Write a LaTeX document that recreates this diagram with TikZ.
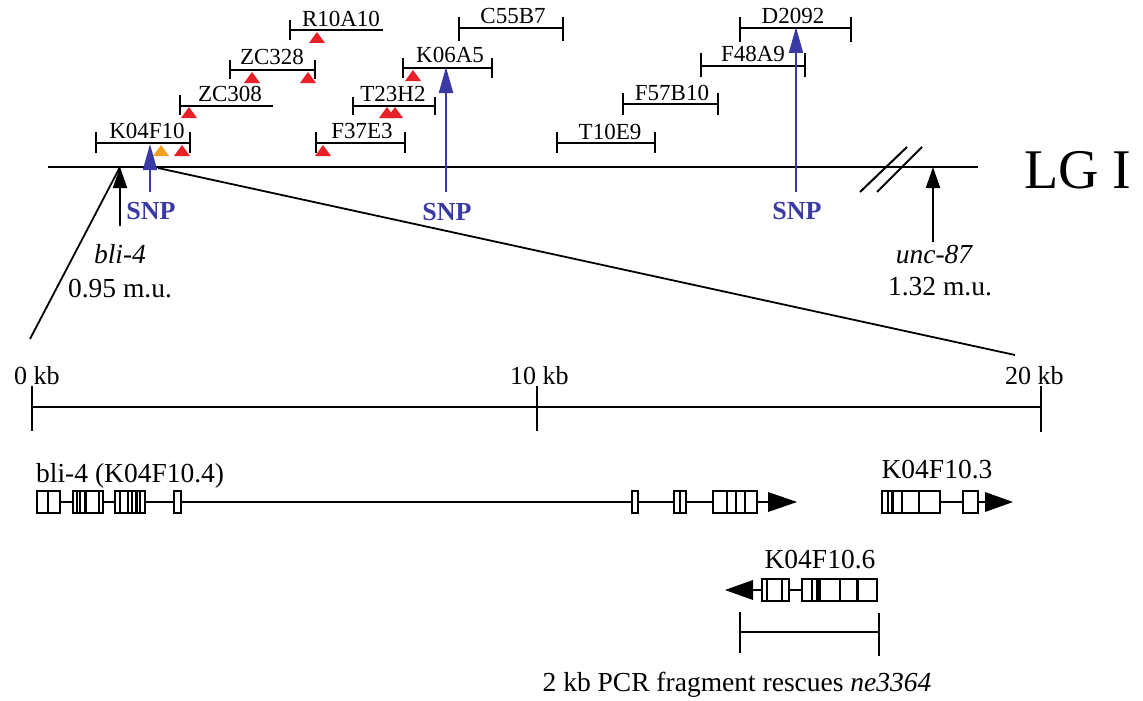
\documentclass[tikz,border=0pt]{standalone}
\usepackage{fontspec}
\setmainfont{Liberation Serif}
\usetikzlibrary{arrows.meta}
\definecolor{snpblue}{RGB}{58,58,165}
\definecolor{mred}{RGB}{232,32,40}
\definecolor{morange}{RGB}{242,162,32}
\tikzset{
  clonebar/.style={line width=1.7pt},
  clonelbl/.style={font=\fontsize{23}{25}\selectfont, inner sep=0pt, anchor=base},
  snplbl/.style={font=\fontsize{26}{28}\selectfont\bfseries, text=snpblue, inner sep=0pt, anchor=base},
  snparrow/.style={line width=2pt, draw=snpblue, -{Triangle[length=26pt,width=14pt]}, shorten >=0pt},
  blkarrow/.style={line width=2pt, -{Triangle[length=21pt,width=14pt]}},
  mulbl/.style={font=\fontsize{27.5}{30}\selectfont, inner sep=0pt, anchor=base},
  genelbl/.style={font=\fontsize{27.5}{30}\selectfont, inner sep=0pt, anchor=base},
  kblbl/.style={font=\fontsize{26}{28}\selectfont, inner sep=0pt, anchor=base west},
  exon/.style={line width=1.6pt, fill=white},
  intron/.style={line width=1.4pt},
  thinsep/.style={line width=1.2pt},
  thicksep/.style={line width=3pt},
}
\begin{document}
\begin{tikzpicture}[x=1pt,y=-1pt]
\useasboundingbox (0,0) rectangle (1143,701);

% ---- main linkage group line
\coordinate (lgL) at (48,167);
\coordinate (lgR) at (978,167);
\draw[line width=2.2pt] (lgL) -- (lgR);
\draw[line width=2pt] (860,192) -- (907,147);
\draw[line width=2pt] (877,192) -- (922,147);
\node[font=\fontsize{56}{60}\selectfont, inner sep=0pt, anchor=base west] (lgI) at (1024,188) {LG I};

% ---- clones
% R10A10
\draw[clonebar] (290,20) -- (290,40) (290,30) -- (383,30);
\node[clonelbl] (R10A10) at (341,27) {R10A10};
% ZC328
\draw[clonebar] (230,60) -- (230,79) (230,70) -- (315,70) (315,60) -- (315,79);
\node[clonelbl] (ZC328) at (272,65) {ZC328};
% ZC308
\draw[clonebar] (180,95) -- (180,115) (180,106) -- (273,106);
\node[clonelbl] (ZC308) at (230,101) {ZC308};
% K04F10
\draw[clonebar] (96,132) -- (96,153) (96,143) -- (190,143) (190,132) -- (190,153);
\node[clonelbl] (K04F10) at (147,138) {K04F10};
% T23H2
\draw[clonebar] (353,97) -- (353,115) (353,106) -- (435,106) (435,97) -- (435,115);
\node[clonelbl] (T23H2) at (393,101) {T23H2};
% F37E3
\draw[clonebar] (316,132) -- (316,153) (316,143) -- (405,143) (405,132) -- (405,153);
\node[clonelbl] (F37E3) at (362,138) {F37E3};
% K06A5
\draw[clonebar] (403,58) -- (403,78) (403,68) -- (492,68) (492,58) -- (492,78);
\node[clonelbl] (K06A5) at (450,63) {K06A5};
% C55B7
\draw[clonebar] (459,17) -- (459,41) (459,28) -- (563,28) (563,17) -- (563,41);
\node[clonelbl] (C55B7) at (513,24) {C55B7};
% D2092
\draw[clonebar] (740,17) -- (740,42) (740,28) -- (851,28) (851,17) -- (851,42);
\node[clonelbl] (D2092) at (793,24) {D2092};
% F48A9
\draw[clonebar] (701,53) -- (701,77) (701,66) -- (805,66) (805,53) -- (805,77);
\node[clonelbl] (F48A9) at (753,62) {F48A9};
% F57B10
\draw[clonebar] (623,93) -- (623,115) (623,104) -- (718,104) (718,93) -- (718,115);
\node[clonelbl] (F57B10) at (672,100) {F57B10};
% T10E9
\draw[clonebar] (557,132) -- (557,153) (557,143) -- (655,143) (655,132) -- (655,153);
\node[clonelbl] (T10E9) at (610,139) {T10E9};

% ---- red / orange markers
\foreach \x/\y in {317/32, 252/72, 308/72, 189/107, 182/145, 323/145, 387/107, 395/107, 413/70}
  \fill[mred] (\x-8,\y+11) -- (\x,\y) -- (\x+8,\y+11) -- cycle;
\fill[morange] (161-8,156) -- (161,145) -- (161+8,156) -- cycle;

% ---- SNP arrows
\coordinate (snp1s) at (150,192); \coordinate (snp1t) at (150,144);
\coordinate (snp2s) at (446,192); \coordinate (snp2t) at (446,67);
\coordinate (snp3s) at (796,192); \coordinate (snp3t) at (796,27);
\draw[snparrow] (snp1s) -- (snp1t);
\draw[snparrow] (snp2s) -- (snp2t);
\draw[snparrow] (snp3s) -- (snp3t);
\node[snplbl] (snp1) at (151,219) {SNP};
\node[snplbl] (snp2) at (447,220) {SNP};
\node[snplbl] (snp3) at (797,219) {SNP};

% ---- marker arrows
\coordinate (bliS) at (120,226); \coordinate (bliT) at (120,167);
\coordinate (uncS) at (933,242); \coordinate (uncT) at (933,167);
\draw[blkarrow] (bliS) -- (bliT);
\draw[blkarrow] (uncS) -- (uncT);
\node[mulbl, font=\fontsize{27.5}{30}\selectfont\itshape] (bli4) at (120,263) {bli-4};
\node[mulbl] (bli4mu) at (120,297) {0.95 m.u.};
\node[mulbl, font=\fontsize{27.5}{30}\selectfont\itshape] (unc87) at (934,263) {unc-87};
\node[mulbl] (unc87mu) at (940,295) {1.32 m.u.};

% ---- zoom lines
\coordinate (zL) at (30,339);
\coordinate (zRs) at (158,168);
\coordinate (zR) at (1015,355);
\draw[line width=1.8pt] (bliT) -- (zL);
\draw[line width=1.8pt] (zRs) -- (zR);

% ---- scale bar
\coordinate (s0) at (32,407); \coordinate (s10) at (537,407); \coordinate (s20) at (1041,407);
\draw[line width=2.2pt] (s0) -- (s20);
\draw[line width=1.6pt] (32,386) -- (32,431) (537,386) -- (537,431) (1041,386) -- (1041,432);
\node[kblbl] (kb0) at (14,384) {0 kb};
\node[kblbl] (kb10) at (510,384) {10 kb};
\node[kblbl] (kb20) at (1005,384) {20 kb};

% ---- bli-4 gene
\node[genelbl, anchor=base west] (bli4g) at (36,482) {bli-4 (K04F10.4)};
\draw[intron] (60,502) -- (769,502);
\draw[exon] (37,491) rectangle (60,513);
\draw[thinsep] (48,491) -- (48,513);
\draw[exon] (73,491) rectangle (103,513);
\draw[thinsep] (77,491) -- (77,513) (80,491) -- (80,513) (99,491) -- (99,513);
\draw[thicksep] (85,491) -- (85,513);
\draw[exon] (115,491) rectangle (145,513);
\draw[thinsep] (120,491) -- (120,513) (128,491) -- (128,513) (132,491) -- (132,513) (140,491) -- (140,513);
\draw[thicksep] (136,491) -- (136,513);
\draw[exon] (174,491) rectangle (181,513);
\draw[exon] (632,491) rectangle (638,513);
\draw[exon] (674,491) rectangle (686,513);
\draw[thinsep] (680,491) -- (680,513);
\draw[exon] (713,491) rectangle (757,513);
\draw[thinsep] (727,491) -- (727,513);
\draw[line width=2pt] (736,491) -- (736,513) (745,491) -- (745,513);
\fill (768,492) -- (797,502) -- (768,512) -- cycle;

% ---- K04F10.3
\node[genelbl] (k3) at (937,478) {K04F10.3};
\draw[intron] (940,502) -- (986,502);
\draw[exon] (882,491) rectangle (940,513);
\draw[thinsep] (888,491) -- (888,513) (902,491) -- (902,513) (919,491) -- (919,513);
\draw[thicksep] (892,491) -- (892,513);
\draw[exon] (963,491) rectangle (978,513);
\fill (985,492) -- (1013,502) -- (985,512) -- cycle;

% ---- K04F10.6
\node[genelbl] (k6) at (820,568) {K04F10.6};
\draw[intron] (752,590) -- (802,590);
\fill (753,580) -- (725,590) -- (753,600) -- cycle;
\draw[exon] (762,579) rectangle (789,601);
\draw[thinsep] (767,579) -- (767,601) (782,579) -- (782,601);
\draw[exon] (802,579) rectangle (877,601);
\draw[thinsep] (812,579) -- (812,601) (820,579) -- (820,601) (840,579) -- (840,601);
\draw[thicksep] (817,579) -- (817,601) (857,579) -- (857,601);

% ---- PCR fragment
\coordinate (pcrL) at (740,632); \coordinate (pcrR) at (879,632);
\draw[line width=1.7pt] (740,612) -- (740,653) (879,613) -- (879,656);
\draw[line width=1.7pt] (pcrL) -- (pcrR);
\node[genelbl] (pcr) at (737,691) {2 kb PCR fragment rescues \textit{ne3364}};
\end{tikzpicture}
\end{document}
